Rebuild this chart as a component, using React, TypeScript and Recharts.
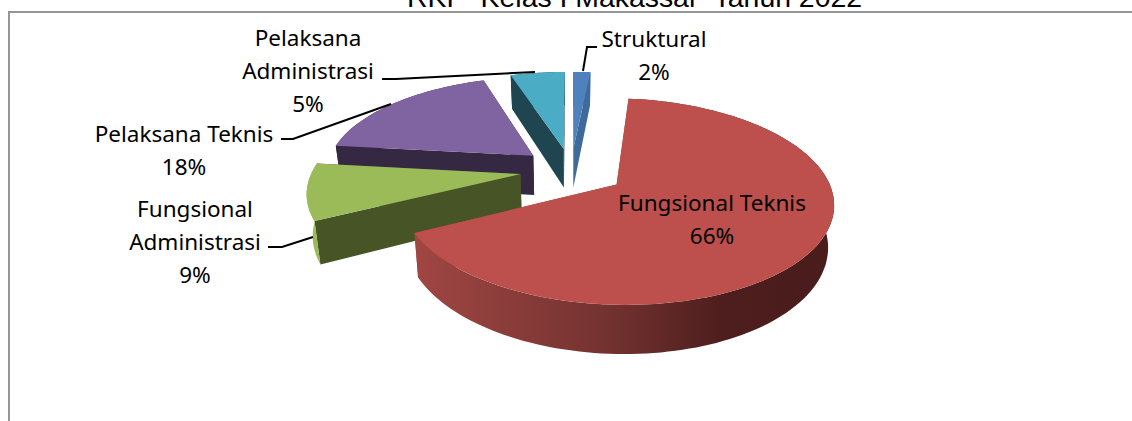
import { PieChart, Pie, Cell } from 'recharts';

const categories = ['Pelaksana Administrasi', 'Pelaksana Teknis', 'Fungsional Administrasi', 'Fungsional Teknis', 'Struktural'];
const shares = [5, 18.2, 9.2, 66, 1.6];
const topColors = ['#4bacc6', '#8064a2', '#9bbb59', '#bd4f4c', '#4f81bd'];
const wallColors = ['#1f4650', '#352842', '#465426', '#9a4340', '#3e6a9c'];
const rimColors = ['#1f4650', '#352842', '#9bbb59', 'url(#rimRed)', '#3e6a9c'];
const explosions = [0.23, 0.24, 0.245, 0.26, 0.23];

const chartData = categories.map((name, i) => ({ name, value: shares[i] }));

// label layout, one entry per category
const labelLines: Record<string, string[]> = {
  'Pelaksana Administrasi': ['Pelaksana', 'Administrasi'],
  'Pelaksana Teknis': ['Pelaksana Teknis'],
  'Fungsional Administrasi': ['Fungsional', 'Administrasi'],
  'Fungsional Teknis': ['Fungsional Teknis'],
  Struktural: ['Struktural'],
};
const labelAnchors: Record<string, [number, number]> = {
  'Pelaksana Administrasi': [308, 46],
  'Pelaksana Teknis': [184, 142],
  'Fungsional Administrasi': [195, 217],
  'Fungsional Teknis': [712, 211],
  Struktural: [654, 47],
};
const leaders: Record<string, string> = {
  'Pelaksana Administrasi': '382,79 396,79 535,72',
  'Pelaksana Teknis': '281,139 293,139 391,104',
  'Fungsional Administrasi': '268,247 282,247 313,237',
  Struktural: '583,71 587,47 597,47',
};

const PIE_CX = 566;
const PIE_CY = 165;
const PIE_R = 208;
const Y_SCALE = 95.7 / 208;
const PERSPECTIVE = 0.162;
const DEPTH = 40;
const BOTTOM_SHRINK = 0.977;

// disk coordinates -> screen, nearer points come out bigger
function project(x: number, y: number, cx: number, cy: number, r: number, drop = false) {
  const w = 1 + PERSPECTIVE * y;
  const px = (r * x) / w;
  const py = (-r * Y_SCALE * y) / w;
  if (!drop) return [cx + px, cy + py];
  return [cx + px * BOTTOM_SHRINK, cy + py + DEPTH / w];
}

function toPath(points: number[][]) {
  return 'M' + points.map((p) => `${p[0].toFixed(1)},${p[1].toFixed(1)}`).join('L') + 'Z';
}

function Slice3D(props: any) {
  const { cx, cy, outerRadius, startAngle, endAngle, name, payload } = props;
  const label = name ?? payload?.name;
  const idx = categories.indexOf(label);
  // recharts angles: 90 is the top, growing counter-clockwise
  const a0 = ((90 - startAngle) * Math.PI) / 180;
  const a1 = ((90 - endAngle) * Math.PI) / 180;
  const mid = (a0 + a1) / 2;
  const ox = explosions[idx] * Math.sin(mid);
  const oy = explosions[idx] * Math.cos(mid);
  const steps = Math.max(4, Math.ceil(Math.abs(a1 - a0) / 0.03));

  const rim: number[][] = [];
  const rimLow: number[][] = [];
  for (let s = 0; s <= steps; s++) {
    const a = a0 + ((a1 - a0) * s) / steps;
    const x = ox + Math.sin(a);
    const y = oy + Math.cos(a);
    rim.push(project(x, y, cx, cy, outerRadius));
    rimLow.push(project(x, y, cx, cy, outerRadius, true));
  }
  const apex = project(ox, oy, cx, cy, outerRadius);
  const apexLow = project(ox, oy, cx, cy, outerRadius, true);

  return (
    <g>
      <path d={toPath([apex, rim[0], rimLow[0], apexLow])} fill={wallColors[idx]} />
      <path d={toPath([apex, rim[steps], rimLow[steps], apexLow])} fill={wallColors[idx]} />
      <path d={toPath([...rim, ...rimLow.slice().reverse()])} fill={rimColors[idx]} />
      <path d={toPath([apex, ...rim])} fill={topColors[idx]} />
    </g>
  );
}

function SliceLabel(props: any) {
  const { name, percent } = props;
  const [x, y] = labelAnchors[name];
  const lines = [...labelLines[name], `${Math.round(percent * 100)}%`];
  return (
    <g>
      {leaders[name] && <polyline points={leaders[name]} fill='none' stroke='#000' strokeWidth={2} />}
      <text x={x} y={y} textAnchor='middle' fill='#000' fontFamily='"Noto Sans"' fontSize={22.5}>
        {lines.map((line, i) => (
          <tspan key={i} x={x} dy={i === 0 ? 0 : 33}>
            {line}
          </tspan>
        ))}
      </text>
    </g>
  );
}

export default function App() {
  return (
    <div style={{ position: 'absolute', left: 0, top: 0, width: 1132, height: 421, overflow: 'hidden', background: '#fff' }}>
      <div style={{ position: 'absolute', left: 8, top: 11, right: -2, bottom: -2, borderLeft: '2px solid #969696', borderTop: '2px solid #969696' }} />
      <div
        style={{
          position: 'absolute',
          left: 0,
          width: 1269,
          top: -17,
          textAlign: 'center',
          fontFamily: '"Liberation Sans"',
          fontSize: 28.4,
          lineHeight: '28px',
          whiteSpace: 'pre',
          color: '#000',
        }}
      >
        RKP  Kelas I Makassar  Tahun 2022
      </div>
      <PieChart width={1132} height={421} style={{ position: 'absolute', left: 0, top: 0 }}>
        <defs>
          <linearGradient id='rimRed' gradientUnits='userSpaceOnUse' x1={416} y1={0} x2={800} y2={0}>
            <stop offset='0%' stopColor='#a04643' />
            <stop offset='50%' stopColor='#733230' />
            <stop offset='80%' stopColor='#4d1e1d' />
            <stop offset='100%' stopColor='#4a1c1b' />
          </linearGradient>
        </defs>
        <Pie
          data={chartData}
          dataKey='value'
          nameKey='name'
          cx={PIE_CX}
          cy={PIE_CY}
          outerRadius={PIE_R}
          startAngle={90}
          endAngle={450}
          paddingAngle={0}
          isAnimationActive={false}
          shape={Slice3D}
          activeShape={Slice3D}
          inactiveShape={Slice3D}
          label={SliceLabel}
          labelLine={false}
        >
          {chartData.map((d, i) => (
            <Cell key={d.name} fill={topColors[i]} />
          ))}
        </Pie>
      </PieChart>
    </div>
  );
}
